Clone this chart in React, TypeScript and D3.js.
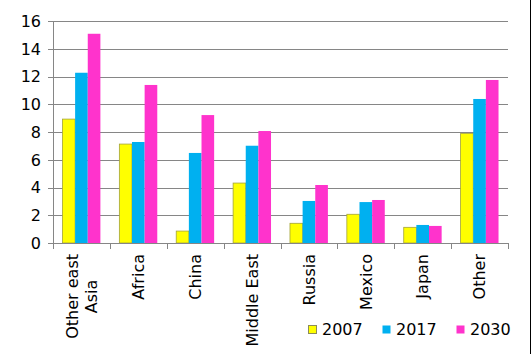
import React, { useEffect, useRef } from 'react';
import * as d3 from 'd3';

const categories = ['Other east Asia', 'Africa', 'China', 'Middle East', 'Russia', 'Mexico', 'Japan', 'Other'];
const categoryLines = [['Other east', 'Asia'], ['Africa'], ['China'], ['Middle East'], ['Russia'], ['Mexico'], ['Japan'], ['Other']];
const seriesNames = ['2007', '2017', '2030'];
const values2007 = [8.93, 7.13, 0.86, 4.32, 1.42, 2.07, 1.13, 7.9];
const values2017 = [12.27, 7.28, 6.49, 7.01, 3.03, 2.95, 1.3, 10.38];
const values2030 = [15.08, 11.39, 9.22, 8.07, 4.18, 3.1, 1.23, 11.75];
const yTicks = [0, 2, 4, 6, 8, 10, 12, 14, 16];

const colors = ['#FFFF00', '#00B0F0', '#FF33CC'];
const font = '"DejaVu Sans", Verdana, sans-serif';

const App = () => {
  const svgRef = useRef<SVGSVGElement>(null);

  useEffect(() => {
    const svg = d3.select(svgRef.current);
    svg.selectAll('*').remove();

    const W = 532;
    const H = 354;
    const left = 53, right = 508, top = 21, bottom = 243;

    svg.attr('width', W).attr('height', H);

    svg.append('rect').attr('width', W).attr('height', H).attr('fill', '#fff');

    const x = d3.scaleBand<string>().domain(categories).range([left, right]).padding(0);
    const y = d3.scaleLinear().domain([0, 16]).range([bottom, top]);

    const band = x.bandwidth();
    const barW = band / 4.5;
    const offset = barW * 0.75;

    // gridlines
    svg.append('g')
      .selectAll('line')
      .data(yTicks.filter(d => d > 0))
      .enter()
      .append('line')
      .attr('x1', left)
      .attr('x2', right)
      .attr('y1', d => Math.round(y(d)) + 0.5)
      .attr('y2', d => Math.round(y(d)) + 0.5)
      .attr('stroke', '#868686')
      .attr('stroke-width', 1);

    // y axis ticks + labels
    const yAxis = svg.append('g');
    yAxis.selectAll('line')
      .data(yTicks)
      .enter()
      .append('line')
      .attr('x1', left - 5)
      .attr('x2', left)
      .attr('y1', d => Math.round(y(d)) + 0.5)
      .attr('y2', d => Math.round(y(d)) + 0.5)
      .attr('stroke', '#868686');
    yAxis.selectAll('text')
      .data(yTicks)
      .enter()
      .append('text')
      .attr('x', 41)
      .attr('y', d => y(d))
      .attr('dy', '0.36em')
      .attr('text-anchor', 'end')
      .attr('font-family', font)
      .attr('font-size', 16)
      .attr('fill', '#000')
      .text(d => d);

    // bars
    const allSeries = [values2007, values2017, values2030];
    allSeries.forEach((vals, si) => {
      svg.append('g')
        .selectAll('rect')
        .data(vals)
        .enter()
        .append('rect')
        .attr('x', (d, i) => (x(categories[i]) as number) + offset + si * barW)
        .attr('y', d => y(d))
        .attr('width', barW)
        .attr('height', d => bottom - y(d))
        .attr('fill', colors[si])
        .attr('stroke', si === 0 ? '#A3A33A' : 'none')
        .attr('stroke-width', si === 0 ? 0.8 : 0);
    });

    // axes lines
    svg.append('line')
      .attr('x1', left + 0.5).attr('x2', left + 0.5)
      .attr('y1', top).attr('y2', bottom)
      .attr('stroke', '#868686');
    svg.append('line')
      .attr('x1', left).attr('x2', right)
      .attr('y1', bottom + 0.5).attr('y2', bottom + 0.5)
      .attr('stroke', '#868686');

    // x ticks
    const xTickPos = categories.map(c => x(c) as number).concat([right]);
    svg.append('g')
      .selectAll('line')
      .data(xTickPos)
      .enter()
      .append('line')
      .attr('x1', d => Math.round(d) + 0.5)
      .attr('x2', d => Math.round(d) + 0.5)
      .attr('y1', bottom)
      .attr('y2', bottom + 6)
      .attr('stroke', '#868686');

    // category labels (rotated)
    const lineH = 19;
    categoryLines.forEach((lines, i) => {
      const cx = (x(categories[i]) as number) + band / 2;
      const longest = Math.max(...lines.map(l => l.length));
      const g = svg.append('g')
        .attr('transform', `translate(${cx},254) rotate(-90)`);
      const n = lines.length;
      lines.forEach((l, li) => {
        const yy = (li - (n - 1) / 2) * lineH;
        g.append('text')
          .attr('x', 0)
          .attr('y', yy)
          .attr('dy', '0.36em')
          .attr('text-anchor', n > 1 ? 'middle' : 'end')
          .attr('font-family', font)
          .attr('font-size', 16)
          .attr('fill', '#000')
          .text(l);
      });
      if (n > 1) {
        // center multi-line block on the longest line
        const texts = g.selectAll<SVGTextElement, unknown>('text');
        let maxW = 0;
        texts.each(function () { maxW = Math.max(maxW, this.getComputedTextLength()); });
        texts.attr('x', -maxW / 2);
        void longest;
      }
    });

    // legend
    const legendX = [308, 382, 456];
    seriesNames.forEach((s, i) => {
      svg.append('rect')
        .attr('x', legendX[i] + 0.5)
        .attr('y', 325.5)
        .attr('width', 8)
        .attr('height', 8)
        .attr('fill', colors[i])
        .attr('stroke', i === 0 ? '#8C8C5A' : 'none');
      svg.append('text')
        .attr('x', legendX[i] + 14)
        .attr('y', 335)
        .attr('font-family', font)
        .attr('font-size', 16)
        .attr('fill', '#000')
        .text(s);
    });

    // right border
    svg.append('line')
      .attr('x1', 530.5).attr('x2', 530.5)
      .attr('y1', 0).attr('y2', H)
      .attr('stroke', '#000');
  }, []);

  return (
    <div style={{ position: 'absolute', left: 0, top: 0 }}>
      <svg ref={svgRef} style={{ display: 'block' }}></svg>
    </div>
  );
};

export default App;
